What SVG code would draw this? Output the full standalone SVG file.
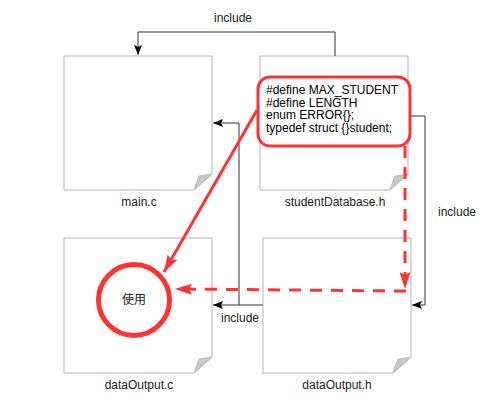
<svg xmlns="http://www.w3.org/2000/svg" width="500" height="400" viewBox="0 0 500 400">
<style>
.doc{fill:#fff;stroke:#b3b3b3;stroke-width:1}
.fold{fill:#c8c8c8;stroke:#b3b3b3;stroke-width:0.8}
.lbl{font-family:"Liberation Sans",Arial,sans-serif;font-size:12px;fill:#222;text-anchor:middle}
.code{font-family:"Liberation Sans",Arial,sans-serif;font-size:12px;fill:#000}
.con{fill:none;stroke:#333;stroke-width:1}
.red{fill:none;stroke:#ff3333;stroke-width:3}
.dash{fill:none;stroke:#ff3333;stroke-width:3;stroke-dasharray:12 9}
</style>
<defs>
<marker id="ab" markerWidth="10" markerHeight="8" refX="10" refY="4" orient="auto" markerUnits="userSpaceOnUse"><path d="M0,0 L10,4 L0,8 L2,4 Z" fill="#000"/></marker>
<marker id="ar" markerWidth="17" markerHeight="11" refX="17" refY="5.5" orient="auto" markerUnits="userSpaceOnUse"><path d="M0,0 L17,5.5 L0,11 L3,5.5 Z" fill="#ff3333"/></marker>
</defs>
<g id="node-main">
<path class="doc" d="M64,56 H212 V174 L194,190 H64 Z"/>
<path class="fold" d="M194,190 Q197,181 199,176 L212,174 Z"/>
<text class="lbl" x="139" y="206">main.c</text>
</g>
<g id="node-studentDatabase">
<path class="doc" d="M260,56 H408 V174 L390,190 H260 Z"/>
<path class="fold" d="M390,190 Q393,181 395,176 L408,174 Z"/>
<text class="lbl" x="335" y="206">studentDatabase.h</text>
</g>
<g id="node-dataOutputC">
<path class="doc" d="M64,238 H212 V357 L194,373 H64 Z"/>
<path class="fold" d="M194,373 Q197,364 199,359 L212,357 Z"/>
<text class="lbl" x="139" y="389">dataOutput.c</text>
</g>
<g id="node-dataOutputH">
<path class="doc" d="M263,238 H411 V357 L393,373 H263 Z"/>
<path class="fold" d="M393,373 Q396,364 398,359 L411,357 Z"/>
<text class="lbl" x="337" y="389">dataOutput.h</text>
</g>
<g id="connectors">
<path class="con" d="M335,56 V32 H138 V55" marker-end="url(#ab)"/>
<text class="lbl" x="233" y="22">include</text>
<path class="con" d="M408,116 H425 V305 H412" marker-end="url(#ab)"/>
<text class="lbl" x="457" y="216">include</text>
<path class="con" d="M263,305 H213" marker-end="url(#ab)"/>
<path class="con" d="M239,305 V123 H213" marker-end="url(#ab)"/>
<text class="lbl" x="240" y="322">include</text>
<path class="red" d="M257,110 L164,272" marker-end="url(#ar)"/>
<path class="dash" d="M405,146 V289" marker-end="url(#ar)"/>
<path class="dash" d="M406,291 L175,289" marker-end="url(#ar)"/>
</g>
<g id="node-defines">
<rect x="258" y="77" width="152" height="69" rx="12" ry="12" fill="#fff" stroke="#ff3333" stroke-width="3"/>
<text class="code" x="266" y="94">#define MAX_STUDENT</text>
<text class="code" x="266" y="106.5">#define LENGTH</text>
<text class="code" x="266" y="119">enum ERROR{};</text>
<text class="code" x="266" y="131.5">typedef struct {}student;</text>
</g>
<g id="node-use">
<circle cx="134" cy="300" r="35.5" fill="#fff" stroke="#ff3333" stroke-width="5"/>
<text class="lbl" x="134" y="304" style="font-family:'Noto Sans CJK SC','Liberation Sans',sans-serif">使用</text>
</g>
</svg>
